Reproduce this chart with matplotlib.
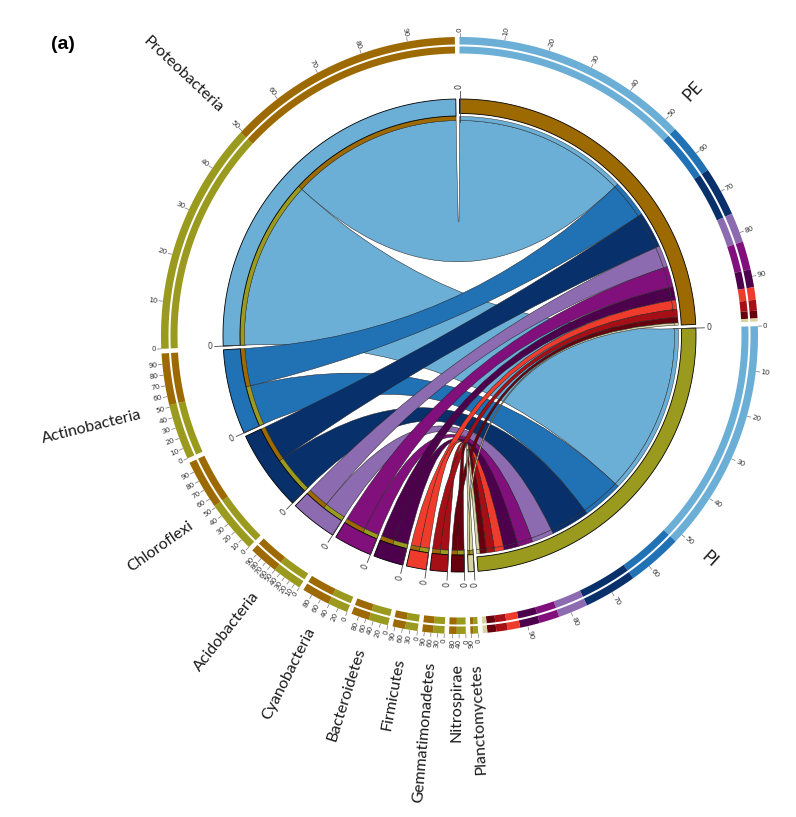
import numpy as np
import matplotlib
matplotlib.use('Agg')
import matplotlib.pyplot as plt
from matplotlib.path import Path
from matplotlib.patches import PathPatch, Polygon

# relative abundance (%) of the ten main phyla in each sample
samples = ['PE', 'PI']
phyla = ['Proteobacteria', 'Actinobacteria', 'Chloroflexi', 'Acidobacteria', 'Cyanobacteria',
         'Bacteroidetes', 'Firmicutes', 'Gemmatimonadetes', 'Nitrospirae', 'Planctomycetes']
pe = [53.0, 11.5, 11.0, 6.6, 6.3, 4.0, 2.8, 2.4, 1.7, 0.7]
pi = [52.0, 12.4, 11.8, 6.6, 4.5, 4.4, 2.8, 2.5, 2.0, 1.0]

sample_colors = ['#9c6a00', '#9a9a1e']
phylum_colors = ['#6baed6', '#2171b5', '#08306b', '#8c6bb1', '#810f7c',
                 '#4d004b', '#ef3b2c', '#a50f15', '#67000d', '#d8d3a2']
tick_step = [10, 10, 10, 10, 20, 20, 30, 30, 40, 90]

cx, cy = 459.5, 335.5
R_RIB = 215.0

fig = plt.figure(figsize=(7.96, 8.17), dpi=100)
ax = fig.add_axes([0, 0, 1, 1])
ax.set_xlim(0, 796)
ax.set_ylim(817, 0)
ax.set_aspect('equal')
ax.axis('off')


def pt(theta, r):
    t = np.radians(theta)
    return cx + r * np.sin(t), cy - r * np.cos(t)


def band(t1, t2, r1, r2, color, ec='none', lw=0, z=2):
    ts = np.linspace(t1, t2, max(3, int(abs(t2 - t1) * 4) + 2))
    verts = [pt(t, r2) for t in ts] + [pt(t, r1) for t in ts[::-1]]
    ax.add_patch(Polygon(verts, closed=True, facecolor=color, edgecolor=ec, linewidth=lw, zorder=z))


def ribbon(a1, a2, b1, b2, color, z):
    verts, codes = [], []
    ta = np.linspace(a1, a2, max(3, int((a2 - a1) * 4) + 2))
    for n, t in enumerate(ta):
        verts.append(pt(t, R_RIB))
        codes.append(Path.MOVETO if n == 0 else Path.LINETO)
    verts += [(cx, cy), pt(b1, R_RIB)]
    codes += [Path.CURVE3, Path.CURVE3]
    tb = np.linspace(b1, b2, max(3, int((b2 - b1) * 4) + 2))[1:]
    for t in tb:
        verts.append(pt(t, R_RIB))
        codes.append(Path.LINETO)
    verts += [(cx, cy), pt(a1, R_RIB), pt(a1, R_RIB)]
    codes += [Path.CURVE3, Path.CURVE3, Path.CLOSEPOLY]
    ax.add_patch(PathPatch(Path(verts, codes), facecolor=color, edgecolor='#222222',
                           linewidth=0.35, zorder=z))


def rad_text(theta, r, s, size, left=False, color='#222222', family='DejaVu Sans'):
    a = (90 - theta + 180) % 360 - 180
    x, y = pt(theta, r)
    if left or np.cos(np.radians(a)) < 0:
        rot, ha = a + 180, 'right'
    else:
        rot, ha = a, 'left'
    ax.text(x, y, s, rotation=rot, rotation_mode='anchor', ha=ha, va='center',
            fontsize=size, color=color, family=family)


mat = np.array([pe, pi])
sample_tot = mat.sum(axis=1)
phylum_tot = mat.sum(axis=0)
gap = 0.9
k = (360 - 12 * gap) / (sample_tot.sum() + phylum_tot.sum())

# sector layout, clockwise from the top
order = [('s', 0), ('s', 1)] + [('p', j) for j in range(len(phyla) - 1, -1, -1)]
start = {}
theta = 0.0
for key in order:
    start[key] = theta
    size = sample_tot[key[1]] if key[0] == 's' else phylum_tot[key[1]]
    theta += size * k + gap

# arcs of each link at both ends
links = []
for i in range(2):
    cum = start[('s', i)] + np.concatenate([[0], np.cumsum(mat[i])]) * k
    for j in range(len(phyla)):
        p0 = start[('p', j)]
        if i == 1:
            b1, b2 = p0, p0 + pi[j] * k
        else:
            b1, b2 = p0 + pi[j] * k, p0 + phylum_tot[j] * k
        links.append((mat[i, j], i, j, cum[j], cum[j + 1], b1, b2))

links.sort(key=lambda l: -l[0])
for z, (v, i, j, a1, a2, b1, b2) in enumerate(links):
    ribbon(a1, a2, b1, b2, phylum_colors[j], 3 + z * 0.01)
    # thin strips at each end, coloured by the partner
    band(a1, a2, R_RIB, R_RIB + 4, phylum_colors[j], ec='#222222', lw=0.3, z=4)
    band(b1, b2, R_RIB, R_RIB + 4.5, sample_colors[i], ec='#222222', lw=0.3, z=4)

# ideogram ring and outer stacked rings
for key in order:
    kind, idx = key
    t0 = start[key]
    if kind == 's':
        span = sample_tot[idx] * k
        band(t0, t0 + span, 222, 236.5, sample_colors[idx], ec='black', lw=0.6, z=5)
        parts = [(mat[idx, j], phylum_colors[j]) for j in range(len(phyla))]
        step = 10
        left = False
    else:
        span = phylum_tot[idx] * k
        band(t0, t0 + span, 219.5, 236.5, phylum_colors[idx], ec='black', lw=0.6, z=5)
        parts = [(pi[idx], sample_colors[1]), (pe[idx], sample_colors[0])]
        step = tick_step[idx]
        left = True
    c = t0
    for v, col in parts:
        w = v * k
        band(c, c + w, 291, 298.5, col, z=2)
        band(c, c + w, 282, 289, col, z=2)
        c += w
    # outer ticks (percent of sector)
    for val in range(0, 100, step):
        t = t0 + val / 100 * span
        x1, y1 = pt(t, 299)
        x2, y2 = pt(t, 302.5)
        ax.plot([x1, x2], [y1, y2], color='#777777', lw=0.5, zorder=2)
        rad_text(t, 303.5, str(val), 5.2, left=left, color='#333333')
    # inner zero tick
    x1, y1 = pt(t0, 214)
    x2, y2 = pt(t0, 245)
    ax.plot([x1, x2], [y1, y2], color='#444444', lw=0.6, zorder=6)
    rad_text(t0, 247, '0', 5.8, left=left, color='#333333')

# sector names
for key in order:
    kind, idx = key
    t0 = start[key]
    if kind == 's':
        mid = t0 + sample_tot[idx] * k / 2
        rad_text(mid, 328, samples[idx], 12.5, color='#1a1a1a', family='Lato')
    else:
        mid = t0 + phylum_tot[idx] * k / 2
        rad_text(mid, 328, phyla[idx], 11.5, left=True, color='#1a1a1a', family='Lato')

ax.text(63, 44, '(a)', fontsize=14, fontweight='bold', family='Liberation Sans',
        ha='center', va='center', color='black')

fig.savefig('out.png', dpi=100)
